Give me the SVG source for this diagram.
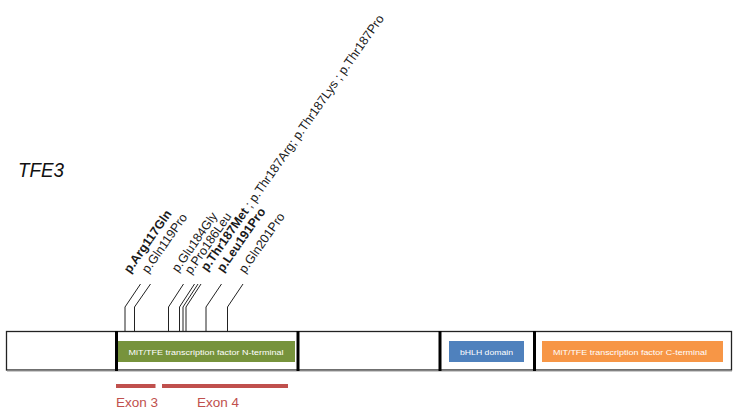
<svg xmlns="http://www.w3.org/2000/svg" width="735" height="414" viewBox="0 0 735 414">
<style>
.lbl{font-family:"Liberation Sans",Arial,sans-serif;font-size:12.5px;fill:#1a1a1a}
.b{font-weight:bold}
.dom{font-family:"Liberation Sans",Arial,sans-serif;font-size:7.5px;fill:#ffffff}
.exon{font-family:"Liberation Sans",Arial,sans-serif;font-size:13.5px;fill:#C0504D}
.mut{fill:none;stroke:#222;stroke-width:1}
.div{stroke:#000;stroke-width:3}
</style>
<rect width="735" height="414" fill="#ffffff"/>
<text id="title" x="18" y="177" font-family="Liberation Sans, Arial, sans-serif" font-size="21" font-style="italic" fill="#111" textLength="46" lengthAdjust="spacingAndGlyphs">TFE3</text>
<g id="protein">
<rect x="6.5" y="331.5" width="725" height="38.5" fill="#fff" stroke="#222" stroke-width="1.3"/>
<line x1="7" y1="371" x2="732" y2="371" stroke="#999" stroke-width="1"/>
</g>
<g id="dividers">
<line class="div" x1="116.5" y1="331" x2="116.5" y2="371"/>
<line class="div" x1="298" y1="331" x2="298" y2="371"/>
<line class="div" x1="440" y1="331" x2="440" y2="371"/>
<line class="div" x1="534.5" y1="331" x2="534.5" y2="371"/>
</g>
<g id="nterm">
<rect x="118" y="341" width="177" height="21" fill="#77933C"/>
<text class="dom" x="206" y="355" text-anchor="middle" textLength="155" lengthAdjust="spacingAndGlyphs">MiT/TFE  transcription  factor  N-terminal</text>
</g>
<g id="bhlh">
<rect x="449" y="341" width="75" height="21" fill="#4F81BD"/>
<text class="dom" x="486.5" y="355" text-anchor="middle" textLength="53" lengthAdjust="spacingAndGlyphs">bHLH domain</text>
</g>
<g id="cterm">
<rect x="542" y="341" width="181" height="21" fill="#F79646"/>
<text class="dom" x="630" y="355" text-anchor="middle" textLength="154" lengthAdjust="spacingAndGlyphs">MiT/TFE  transcription  factor  C-terminal</text>
</g>
<g id="exon3">
<line x1="116" y1="386" x2="155.5" y2="386" stroke="#C0504D" stroke-width="4"/>
<text class="exon" x="116" y="407">Exon 3</text>
</g>
<g id="exon4">
<line x1="162" y1="386" x2="288" y2="386" stroke="#C0504D" stroke-width="4"/>
<text class="exon" x="197" y="407">Exon 4</text>
</g>
<g id="connectors">
<polyline class="mut" points="125,331 125,307 140.5,284"/>
<polyline class="mut" points="134.5,331 134.5,307 150.5,284"/>
<polyline class="mut" points="168.5,331 168.5,307 183.5,284"/>
<polyline class="mut" points="179.5,331 179.5,307 194.5,284"/>
<polyline class="mut" points="183,331 183,307 198,284" stroke-width="1"/>
<polyline class="mut" points="186,331 186,307 201,284" stroke-width="3"/>
<polyline class="mut" points="206,331 206,307 221.5,284" stroke-width="2"/>
<polyline class="mut" points="227.5,331 227.5,307 243,284"/>
</g>
<g id="labels">
<text class="lbl b" transform="translate(130,274) rotate(-55)">p.Arg117Gln</text>
<text class="lbl" transform="translate(148,274) rotate(-55)">p.Gln119Pro</text>
<text class="lbl" transform="translate(178,273) rotate(-55)">p.Glu184Gly</text>
<text class="lbl" transform="translate(191,275) rotate(-55)">p.Pro186Leu</text>
<text class="lbl" transform="translate(207,272) rotate(-55)"><tspan class="b">p.Thr187Met</tspan> ; p.Thr187Arg; p.Thr187Lys ; p.Thr187Pro</text>
<text class="lbl b" transform="translate(223,273) rotate(-55)">p.Leu191Pro</text>
<text class="lbl" transform="translate(245,274) rotate(-55)">p.Gln201Pro</text>
</g>
</svg>
